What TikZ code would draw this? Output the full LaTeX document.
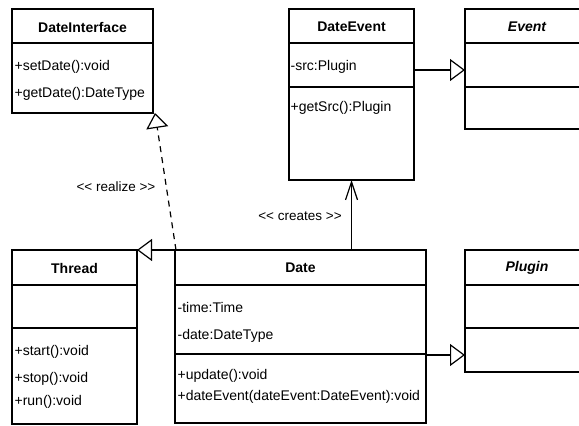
\documentclass[tikz,border=0pt]{standalone}
\usepackage{fontspec}
\setmainfont{Liberation Sans}
\usetikzlibrary{arrows.meta}
\begin{document}
\begin{tikzpicture}[x=1pt,y=-1pt,line width=1.2pt,
  cls/.style={draw,anchor=north west,inner sep=0pt,outer sep=0pt},
  ttl/.style={font=\bfseries\fontsize{14}{16}\selectfont,inner sep=0pt},
  ittl/.style={font=\bfseries\itshape\fontsize{14}{16}\selectfont,inner sep=0pt},
  item/.style={anchor=west,font=\fontsize{14}{16}\selectfont,inner sep=0pt},
  lbl/.style={font=\fontsize{13.5}{15}\selectfont,inner sep=0pt},
  gen/.style={-{Triangle[open,length=15pt,width=22pt]}},
  dep/.style={-{Straight Barb[length=18pt,width=12pt]}}]
\useasboundingbox (0,0) rectangle (579,426);
\clip (0,0) rectangle (579,426);

% classes
\node[cls,minimum width=141pt,minimum height=104pt] (di) at (12,9) {};
\node[cls,minimum width=125pt,minimum height=171pt] (de) at (289,9) {};
\node[cls,minimum width=124pt,minimum height=120pt] (ev) at (465,9) {};
\node[cls,minimum width=125pt,minimum height=174pt] (th) at (12,250) {};
\node[cls,minimum width=251pt,minimum height=173pt] (da) at (175,250) {};
\node[cls,minimum width=124pt,minimum height=122pt] (pl) at (465,250) {};

% compartments
\draw (di.west |- 0,43) -- (di.east |- 0,43);
\draw (de.west |- 0,43) -- (de.east |- 0,43);
\draw (de.west |- 0,87) -- (de.east |- 0,87);
\draw (ev.west |- 0,43) -- (ev.east |- 0,43);
\draw (ev.west |- 0,87) -- (ev.east |- 0,87);
\draw (th.west |- 0,285) -- (th.east |- 0,285);
\draw (th.west |- 0,328) -- (th.east |- 0,328);
\draw (da.west |- 0,285) -- (da.east |- 0,285);
\draw (da.west |- 0,354) -- (da.east |- 0,354);
\draw (pl.west |- 0,285) -- (pl.east |- 0,285);
\draw (pl.west |- 0,328) -- (pl.east |- 0,328);

% titles
\node[ttl] (tdi) at (82.5,27) {DateInterface};
\node[ttl] (tde) at (351.5,27) {DateEvent};
\node[ittl] (tev) at (527,27) {Event};
\node[ttl] (tth) at (74.5,268) {Thread};
\node[ttl] (tda) at (300.5,268) {Date};
\node[ittl] (tpl) at (527,268) {Plugin};

% members
\node[item] (di1) at (14,67) {+setDate():void};
\node[item] (di2) at (14,94) {+getDate():DateType};
\node[item] (de1) at (290,67) {-src:Plugin};
\node[item] (de2) at (290,108) {+getSrc():Plugin};
\node[item] (th1) at (14,352) {+start():void};
\node[item] (th2) at (14,379) {+stop():void};
\node[item] (th3) at (14,402) {+run():void};
\node[item] (da1) at (177,307) {-time:Time};
\node[item] (da2) at (177,336) {-date:DateType};
\node[item] (da3) at (177,376) {+update():void};
\node[item] (da4) at (177,397) {+dateEvent(dateEvent:DateEvent):void};

% labels
\node[lbl] (lre) at (116,187) {<{}< realize >{}>};
\node[lbl] (lcr) at (300,216) {<{}< creates >{}>};

% connectors
\draw[gen] (de.east |- 0,70) -- (ev.west |- 0,70);
\draw[gen] (da.north west) -- (th.north east);
\draw[gen] (da.east |- 0,355) -- (pl.west |- 0,355);
\draw[gen,dash pattern=on 6pt off 5pt] ([xshift=1pt]da.north west) -- ([xshift=2pt]di.south east);
\draw[dep] (da.north -| de.south) -- (de.south);
\end{tikzpicture}
\end{document}
